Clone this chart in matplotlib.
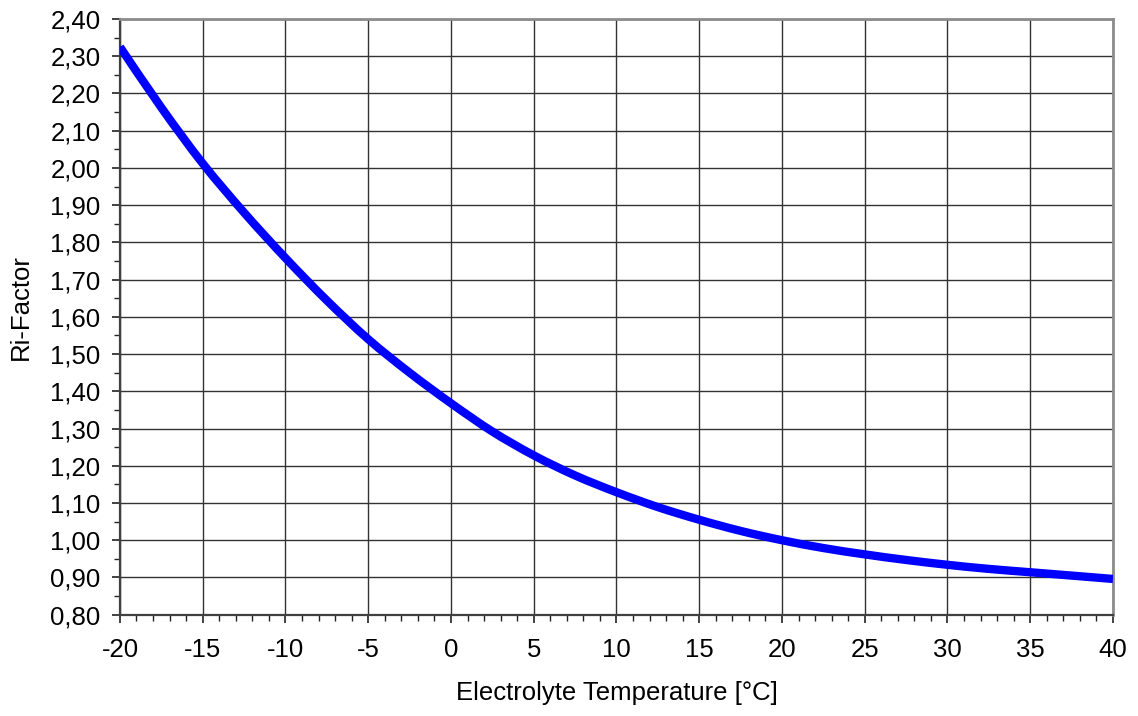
import matplotlib
matplotlib.use("Agg")
import matplotlib.pyplot as plt
from matplotlib.path import Path
from matplotlib.patches import PathPatch
from matplotlib.ticker import MultipleLocator, FuncFormatter

# Ri correction factor versus electrolyte temperature
temperature_c = [-20, -17.5, -15, -12.5, -10, -7.5, -5, -2.5, 0, 2.5, 5, 7.5,
                 10, 12.5, 15, 17.5, 20, 22.5, 25, 27.5, 30, 32.5, 35, 37.5, 40]
ri_factor = [2.325, 2.162, 2.012, 1.880, 1.758, 1.644, 1.540, 1.450, 1.368,
             1.292, 1.228, 1.174, 1.129, 1.089, 1.055, 1.025, 1.000, 0.979,
             0.962, 0.947, 0.934, 0.923, 0.914, 0.905, 0.896]

plt.rcParams["font.family"] = ["Liberation Sans", "DejaVu Sans"]
FS = 18.5


def smoothed_path(xs, ys):
    """Smoothed line through every data point (Catmull-Rom as cubic Beziers)."""
    pts = list(zip(xs, ys))
    n = len(pts)
    verts = [pts[0]]
    codes = [Path.MOVETO]
    for i in range(n - 1):
        p0 = pts[i - 1] if i > 0 else pts[i]
        p1 = pts[i]
        p2 = pts[i + 1]
        p3 = pts[i + 2] if i + 2 < n else pts[i + 1]
        c1 = (p1[0] + (p2[0] - p0[0]) / 6, p1[1] + (p2[1] - p0[1]) / 6)
        c2 = (p2[0] - (p3[0] - p1[0]) / 6, p2[1] - (p3[1] - p1[1]) / 6)
        verts += [c1, c2, p2]
        codes += [Path.CURVE4] * 3
    return Path(verts, codes)


fig = plt.figure(figsize=(11.38, 7.16), dpi=100)
ax = fig.add_axes([0.1054, 0.1415, 0.8726, 0.832])

curve = PathPatch(smoothed_path(temperature_c, ri_factor), facecolor="none",
                  edgecolor="#0000ff", lw=6.0, capstyle="butt",
                  joinstyle="round", zorder=3, clip_on=True)
ax.add_patch(curve)

ax.set_xlim(-20, 40)
ax.set_ylim(0.80, 2.40)
ax.xaxis.set_major_locator(MultipleLocator(5))
ax.xaxis.set_minor_locator(MultipleLocator(1))
ax.yaxis.set_major_locator(MultipleLocator(0.1))
ax.yaxis.set_minor_locator(MultipleLocator(0.05))
ax.yaxis.set_major_formatter(FuncFormatter(lambda v, p: f"{v:.2f}".replace(".", ",")))
ax.xaxis.set_major_formatter(FuncFormatter(lambda v, p: f"{v:.0f}"))

ax.grid(True, which="major", color="#333333", lw=1.0, zorder=1)
ax.set_axisbelow(True)

for side in ("top", "right"):
    ax.spines[side].set_color("#8c8c8c")
    ax.spines[side].set_linewidth(2.0)
for side in ("left", "bottom"):
    ax.spines[side].set_color("#404040")
    ax.spines[side].set_linewidth(1.6)

ax.tick_params(which="major", direction="out", length=6, width=1.2,
               color="#222222", labelsize=FS, labelcolor="black")
ax.tick_params(which="minor", direction="out", length=4, width=1.0,
               color="#222222")
ax.tick_params(axis="y", which="major", pad=8)
ax.tick_params(axis="x", which="major", pad=11)

ax.set_xlabel("Electrolyte Temperature [°C]", fontsize=FS)
ax.set_ylabel("Ri-Factor", fontsize=FS)
ax.xaxis.set_label_coords(0.5, -0.112)
ax.yaxis.set_label_coords(-0.088, 0.516)

fig.savefig("out.png", dpi=100)
